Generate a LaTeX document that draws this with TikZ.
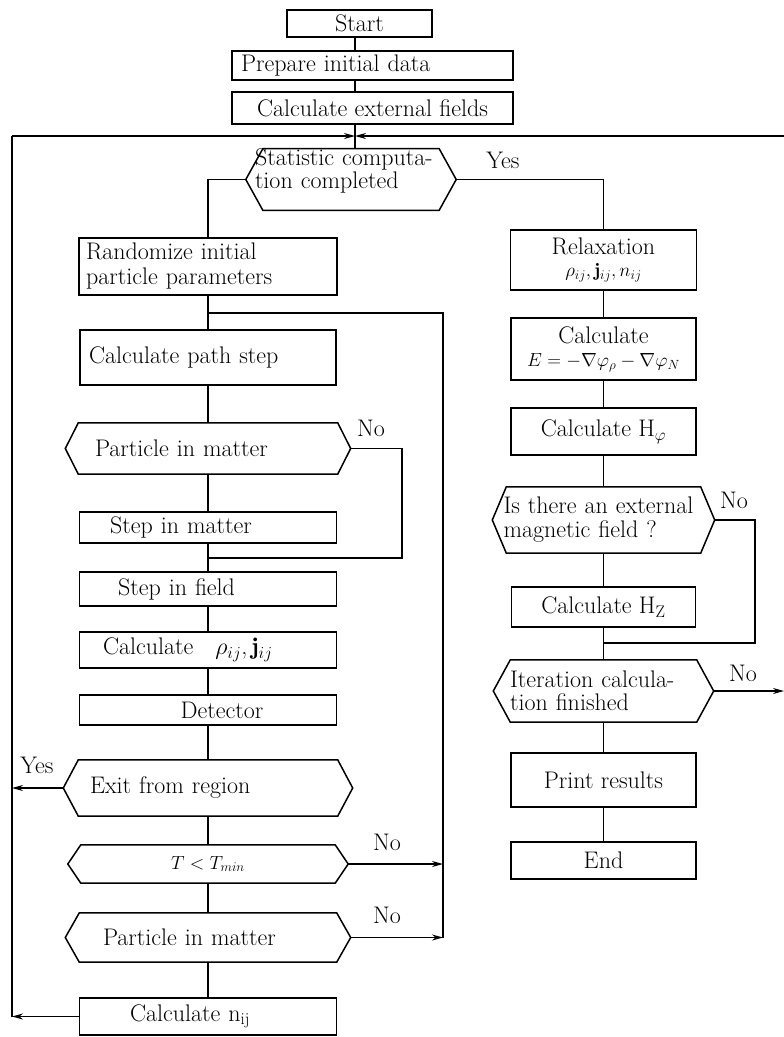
\RequirePackage{fix-cm}
\documentclass[tikz,border=0pt]{standalone}
\usepackage{amsmath}
\usepackage{fontspec}
\usetikzlibrary{arrows.meta,positioning,calc}

\tikzset{
  box/.style={draw, line width=1.5pt, inner sep=0pt, align=center},
  cond/.style={inner sep=0pt, align=left},
  link/.style={line width=1.3pt},
  flow/.style={line width=1.3pt, -{Stealth[length=11pt,width=6pt]}},
  lbl/.style={inner sep=0pt},
  small/.style={font=\fontsize{19}{21}\selectfont},
}
% hexagonal decision outline round a (rectangular) node
\newcommand{\hexa}[2][15pt]{\draw[line width=1.5pt] (#2.west) -- ([xshift=#1]#2.north west) -- ([xshift=-#1]#2.north east) -- (#2.east) -- ([xshift=-#1]#2.south east) -- ([xshift=#1]#2.south west) -- cycle;}

\begin{document}
\begin{tikzpicture}[x=1pt, y=-1pt, font=\fontsize{24}{25}\selectfont]
  \useasboundingbox (0,0) rectangle (784,1037);

  % top part
  \node[box, minimum width=145, minimum height=27] (start) at (359.5,23.5) {Start};
  \node[box, minimum width=281, minimum height=29, text width=263, align=left] (prep) at (372.5,65.5) {Prepare initial data};
  \node[box, minimum width=281, minimum height=32] (ext) at (372.5,108) {Calculate external fields};
  \coordinate (meet) at (355,136);
  \coordinate (lft) at (12,136);
  \coordinate (rgt) at (784,136);
  \node[cond, minimum width=210, minimum height=55, text width=192, font=\fontsize{24}{16}\selectfont] (stat) at (351,179.5) {Statistic computa-\\tion completed\\[6pt]\mbox{}};
  \hexa[17pt]{stat}
  \node[lbl] (yes1) at (503,160) {Yes};

  % left column
  \node[box, minimum width=258, minimum height=57, text width=244, align=left] (rand) at (208,266.5) {Randomize initial\\particle parameters};
  \node[box, minimum width=256, minimum height=55, text width=238, align=left] (calcpath) at (208,357.5) {Calculate path step};
  \node[cond, minimum width=285, minimum height=51, text width=226] (pim1) at (208,448.5) {Particle in matter};
  \hexa[13pt]{pim1}
  \node[lbl] (no1) at (371,428) {No};
  \node[box, minimum width=257, minimum height=31, text width=196, align=left] (stepm) at (208,527.5) {Step in matter};
  \node[box, minimum width=257, minimum height=34, text width=180, align=left] (stepf) at (208,589) {Step in field};
  \node[box, minimum width=257, minimum height=36, text width=210, align=left] (calcrho) at (208,650) {Calculate\hspace{22pt}$\rho_{ij}$,\,$\mathbf{j}_{ij}$};
  \node[box, minimum width=257, minimum height=30] (det) at (208,710) {\hspace*{28pt}Detector};
  \node[cond, minimum width=289, minimum height=56, text width=236] (exit) at (208,788) {Exit from region};
  \hexa[15pt]{exit}
  \node[lbl] (yes2) at (37,765) {Yes};
  \node[cond, minimum width=280, minimum height=38, align=center, small] (tmin) at (208,864) {$T<T_{min}$};
  \hexa[13pt]{tmin}
  \node[lbl] (no4) at (387,842) {No};
  \node[cond, minimum width=285, minimum height=49, text width=210] (pim2) at (208,937.5) {Particle in matter};
  \hexa[14pt]{pim2}
  \node[lbl] (no5) at (387,915) {No};
  \node[box, minimum width=257, minimum height=37, text width=156, align=left] (nij) at (208,1016.5) {Calculate n$_{\mathrm{ij}}$};

  % right column
  \node[box, minimum width=186, minimum height=60, font=\fontsize{24}{22}\selectfont] (relax) at (603.5,260) {Relaxation\\{\fontsize{19}{21}\selectfont$\rho_{ij},\mathbf{j}_{ij},n_{ij}$}};
  \node[box, minimum width=185, minimum height=62, font=\fontsize{24}{23}\selectfont] (calcE) at (603.5,349) {Calculate\\{\fontsize{19}{21}\selectfont$E=-\nabla\varphi_{\rho}-\nabla\varphi_{N}$}};
  \node[box, minimum width=185, minimum height=47] (Hphi) at (603.5,431.5) {Calculate H$_{\varphi}$};
  \node[cond, minimum width=222, minimum height=66, text width=200, font=\fontsize{24}{24}\selectfont] (exfield) at (603.5,520) {Is there an external\\magnetic field ?};
  \hexa[14pt]{exfield}
  \node[lbl] (no2) at (734,500) {No};
  \node[box, minimum width=184, minimum height=40] (Hz) at (603.5,607) {Calculate H$_{\mathrm{Z}}$};
  \node[cond, minimum width=220, minimum height=62, text width=187, font=\fontsize{24}{23}\selectfont] (iter) at (603.5,691) {Iteration calcula-\\tion finished};
  \hexa[17pt]{iter}
  \node[lbl] (no3) at (743,673) {No};
  \node[box, minimum width=185, minimum height=54] (print) at (603.5,780) {Print results};
  \node[box, minimum width=185, minimum height=37] (end) at (603.5,860.5) {End};

  % connectors
  \draw[link] (start.south -| meet) -- (prep.north -| meet);
  \draw[link] (prep.south -| meet) -- (ext.north -| meet);
  \draw[link] (ext.south -| meet) -- (stat.north -| meet);
  \draw[flow] (lft) -- (meet);
  \draw[flow] (rgt) -- (meet);
  \draw[link] (stat.west) -| (rand.north);
  \draw[link] (stat.east) -| (relax.north);
  \foreach \a/\b in {rand/calcpath, calcpath/pim1, pim1/stepm, stepm/stepf, stepf/calcrho, calcrho/det, det/exit, exit/tmin, tmin/pim2, pim2/nij}
    \draw[link] (\a) -- (\b);
  \foreach \a/\b in {relax/calcE, calcE/Hphi, Hphi/exfield, exfield/Hz, Hz/iter, iter/print, print/end}
    \draw[link] (\a) -- (\b);

  % bypasses and returns
  \coordinate (m1) at (208,558);
  \coordinate (by1) at (402,558);
  \draw[link] (pim1.east) -| (by1) -- (m1);
  \coordinate (m2) at (603.5,643);
  \coordinate (by2) at (755,643);
  \draw[link] (exfield.east) -| (by2) -- (m2);
  \coordinate (m3) at (208,313);
  \coordinate (br) at (443,313);
  \coordinate (brb) at (443,938);
  \draw[link] (m3) -- (br) -- (brb);
  \draw[flow] (tmin.east) -- (tmin.east -| br);
  \draw[flow] (pim2.east) -- (pim2.east -| br);
  \draw[link] (lft) -- (nij.west -| lft);
  \draw[flow] (nij.west) -- (nij.west -| lft);
  \draw[flow] (exit.west) -- (exit.west -| lft);
  \draw[flow] (iter.east) -- (iter.east -| rgt);
\end{tikzpicture}
\end{document}
